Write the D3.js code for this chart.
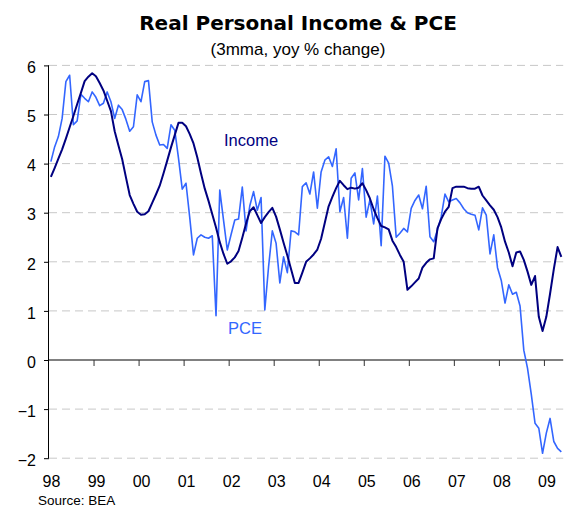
<!DOCTYPE html>
<html lang="en">
<head>
<meta charset="utf-8">
<title>Real Personal Income & PCE</title>
<script src="https://d3js.org/d3.v7.min.js"></script>
<style>
  html, body { margin: 0; padding: 0; background: #ffffff; }
  svg text { font-family: "Liberation Sans", Arial, sans-serif; }
</style>
</head>
<body>
<svg id="chart" width="579" height="508"></svg>

<script>
// year labels on the x axis (one per January)
const yearLabels = ["98", "99", "00", "01", "02", "03", "04", "05", "06", "07", "08", "09"];
const yTicks = [-2, -1, 0, 1, 2, 3, 4, 5, 6];

// monthly, Jan 1998 .. May 2009, yoy % change (3mma)
const income = [
  3.73, 3.91, 4.10, 4.29, 4.51, 4.74, 4.97, 5.21, 5.44, 5.68, 5.77, 5.84,
  5.78, 5.64, 5.49, 5.28, 5.07, 4.66, 4.37, 4.09, 3.72, 3.36, 3.18, 3.02,
  2.96, 2.97, 3.03, 3.20, 3.37, 3.55, 3.80, 4.06, 4.33, 4.58, 4.83, 4.83,
  4.76, 4.60, 4.41, 4.13, 3.80, 3.49, 3.24, 2.97, 2.70, 2.40, 2.16, 1.96,
  2.01, 2.09, 2.22, 2.49, 2.78, 3.03, 3.11, 2.95, 2.79, 2.91, 3.01, 3.10,
  2.92, 2.66, 2.39, 2.13, 1.85, 1.57, 1.57, 1.78, 2.00, 2.07, 2.15, 2.25,
  2.47, 2.80, 3.13, 3.32, 3.50, 3.65, 3.56, 3.48, 3.51, 3.49, 3.51, 3.60,
  3.46, 3.29, 3.07, 2.89, 2.73, 2.70, 2.66, 2.43, 2.30, 2.14, 2.00, 1.43,
  1.50, 1.58, 1.66, 1.88, 1.98, 2.05, 2.07, 2.68, 2.87, 3.02, 3.12, 3.50,
  3.53, 3.53, 3.53, 3.50, 3.49, 3.49, 3.53, 3.35, 3.25, 3.15, 3.06, 2.91,
  2.70, 2.41, 2.19, 1.91, 2.19, 2.21, 2.04, 1.80, 1.53, 1.71, 0.88, 0.59,
  0.88, 1.35, 1.85, 2.30, 2.10
];

const pce = [
  4.04, 4.34, 4.55, 4.92, 5.67, 5.80, 4.79, 4.87, 5.41, 5.33, 5.26, 5.46,
  5.35, 5.18, 5.23, 5.46, 5.26, 4.92, 5.19, 5.10, 4.90, 4.66, 4.75, 5.40,
  5.26, 5.67, 5.69, 4.85, 4.58, 4.38, 4.39, 4.31, 4.79, 4.68, 4.11, 3.48,
  3.60, 2.90, 2.14, 2.48, 2.55, 2.50, 2.48, 2.53, 0.90, 3.46, 2.85, 2.24,
  2.55, 2.85, 2.87, 3.52, 2.63, 3.14, 3.43, 3.05, 3.31, 1.02, 1.90, 2.63,
  2.38, 1.57, 2.10, 1.78, 2.63, 2.61, 2.55, 3.53, 3.61, 3.38, 3.83, 3.09,
  3.83, 4.07, 4.14, 3.94, 4.30, 3.02, 3.31, 2.48, 3.70, 3.81, 3.26, 3.90,
  2.91, 3.26, 2.77, 3.34, 2.33, 4.15, 4.01, 3.54, 2.50, 2.58, 2.68, 2.61,
  3.09, 3.25, 3.36, 3.08, 3.54, 2.51, 2.41, 2.65, 2.92, 3.38, 3.22, 3.26,
  3.29, 3.20, 3.08, 3.00, 2.97, 2.95, 2.65, 3.10, 2.95, 2.16, 2.55, 1.88,
  1.62, 1.16, 1.53, 1.34, 1.38, 1.10, 0.20, -0.17, -0.70, -1.29, -1.39, -1.90,
  -1.49, -1.19, -1.66, -1.80, -1.87
];

const svg = d3.select("#chart");

// months since Jan 1998; axis runs to the start of June 2009
const x = d3.scaleLinear().domain([0, 137]).range([49, 563.2]);
const y = d3.scaleLinear().domain([-2, 6]).range([458.2, 65.4]);

const left = x.range()[0], right = x.range()[1];

// title
svg.append("text")
  .attr("x", 298).attr("y", 30)
  .attr("text-anchor", "middle")
  .style("font-family", "'DejaVu Sans', sans-serif")
  .style("font-weight", "bold")
  .style("font-size", "20px")
  .text("Real Personal Income & PCE");

svg.append("text")
  .attr("x", 298).attr("y", 55)
  .attr("text-anchor", "middle")
  .style("font-size", "17px")
  .text("(3mma, yoy % change)");

// dashed gridlines
svg.append("g")
  .selectAll("line")
  .data(yTicks.filter(d => d !== 0))
  .join("line")
  .attr("x1", left).attr("x2", right)
  .attr("y1", d => y(d)).attr("y2", d => y(d))
  .attr("stroke", "#c8c8c8")
  .attr("stroke-dasharray", "8,5");

// y axis
const yAxis = svg.append("g")
  .attr("transform", `translate(${left},0)`)
  .call(d3.axisLeft(y).tickValues(yTicks).tickSize(5).tickPadding(8).tickFormat(d3.format("d")));
yAxis.select(".domain").attr("stroke", "#000").attr("d", `M-0.5,${y(6)}V${y(-2)}`);
yAxis.selectAll(".tick line").attr("stroke", "#000");
yAxis.selectAll(".tick text")
  .attr("dy", "0.45em")
  .style("font-family", "'Liberation Sans', Arial, sans-serif")
  .style("font-size", "16px")
  .attr("fill", "#000");

// zero line with year ticks
svg.append("line")
  .attr("x1", left).attr("x2", right)
  .attr("y1", y(0)).attr("y2", y(0))
  .attr("stroke", "#808080")
  .attr("stroke-width", 2);

const yearTicks = yearLabels.map((d, i) => i * 12);
svg.append("g")
  .selectAll("line")
  .data(yearTicks.slice(1))
  .join("line")
  .attr("x1", d => x(d)).attr("x2", d => x(d))
  .attr("y1", y(0)).attr("y2", y(0) + 6)
  .attr("stroke", "#333");

// year labels below the plot
svg.append("g")
  .selectAll("text")
  .data(yearLabels)
  .join("text")
  .attr("x", (d, i) => x(i * 12) + 2.5)
  .attr("y", 487)
  .attr("text-anchor", "middle")
  .style("font-size", "16px")
  .text(d => d);

// series
const line = d3.line()
  .x((d, i) => x(i + 0.5))
  .y(d => y(d));

svg.append("path")
  .datum(pce)
  .attr("fill", "none")
  .attr("stroke", "#3366ff")
  .attr("stroke-width", 1.6)
  .attr("stroke-linejoin", "round")
  .attr("d", line);

svg.append("path")
  .datum(income)
  .attr("fill", "none")
  .attr("stroke", "#000080")
  .attr("stroke-width", 2)
  .attr("stroke-linejoin", "round")
  .attr("d", line);

// series labels
svg.append("text")
  .attr("x", 224).attr("y", 146)
  .attr("fill", "#000080")
  .style("font-size", "16.5px")
  .text("Income");

svg.append("text")
  .attr("x", 228).attr("y", 334)
  .attr("fill", "#3366ff")
  .style("font-size", "16.5px")
  .text("PCE");

// source
svg.append("text")
  .attr("x", 38).attr("y", 505)
  .style("font-size", "13.5px")
  .text("Source: BEA");
</script>
</body>
</html>
